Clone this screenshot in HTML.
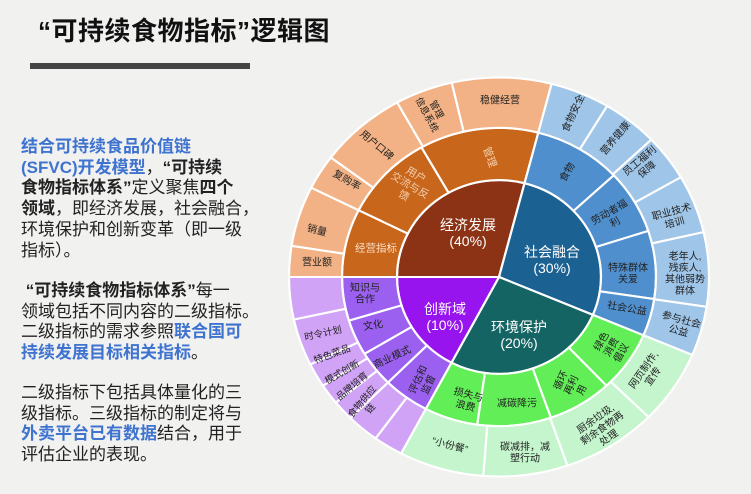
<!DOCTYPE html>
<html><head><meta charset="utf-8"><style>
body{margin:0;width:751px;height:494px;overflow:hidden;background:#f1f1f0;font-family:"Liberation Sans","Noto Sans CJK SC",sans-serif;position:relative}
.t{position:absolute;left:38px;top:11px;font-size:26px;font-weight:bold;color:#111;letter-spacing:0.5px;white-space:nowrap}
.bar{position:absolute;left:30px;top:63px;width:220px;height:6px;background:#444}
.p{position:absolute;left:21px;font-size:17px;line-height:20.7px;color:#222;white-space:nowrap}
.b{color:#3f73d0;font-weight:bold}
svg{position:absolute;left:0;top:0}
text{font-family:"Liberation Sans","Noto Sans CJK SC",sans-serif}
</style></head><body>
<div class="t">“可持续食物指标”逻辑图</div>
<div class="bar"></div>
<div class="p" style="top:137px"><span class="b">结合可持续食品价值链</span><br><span class="b">(SFVC)开发模型</span>，<b>“可持续</b><br><b>食物指标体系”</b>定义聚焦<b>四个</b><br><b>领域</b>，即经济发展，社会融合，<br>环境保护和创新变革（即一级<br>指标）。</div>
<div class="p" style="top:281px">&nbsp;<b>“可持续食物指标体系”</b>每一<br>领域包括不同内容的二级指标。<br>二级指标的需求参照<span class="b">联合国可</span><br><span class="b">持续发展目标相关指标</span>。</div>
<div class="p" style="top:383px">二级指标下包括具体量化的三<br>级指标。三级指标的制定将与<br><span class="b">外卖平台已有数据</span>结合，用于<br>评估企业的表现。</div>
<svg width="751" height="494" id="s">
<g id="g" transform="translate(499,277) scale(1,0.95)"></g>
<g id="lab" font-size="10" fill="#222" text-anchor="middle"></g>
</svg>
<script>
var g=document.getElementById('g');
function pt(r,a){a=a*Math.PI/180;return [r*Math.sin(a),-r*Math.cos(a)];}
function seg(r0,r1,a0,a1,c){
 var p1=pt(r1,a0),p2=pt(r1,a1),p3=pt(r0,a1),p4=pt(r0,a0),l=(a1-a0)>180?1:0;
 var d='M'+p1+'A'+r1+','+r1+' 0 '+l+' 1 '+p2+'L'+p3;
 if(r0>0)d+='A'+r0+','+r0+' 0 '+l+' 0 '+p4;
 d+='Z';
 var e=document.createElementNS('http://www.w3.org/2000/svg','path');
 e.setAttribute('d',d);e.setAttribute('fill',c);e.setAttribute('stroke','#fff');e.setAttribute('stroke-width','2.2');
 g.appendChild(e);}
seg(0,102,270,374.5,'#8d3315');seg(0,102,14.5,113,'#1b6192');seg(0,102,113,207.8,'#146463');seg(0,102,207.8,270,'#9814ee');
var R0=102,R1=157;
[[270,296.6],[296.6,330.4],[330.4,374.5]].forEach(function(a){seg(R0,R1,a[0],a[1],'#c8661b');});
[[14.5,47],[47,72],[72,98.5],[98.5,113]].forEach(function(a){seg(R0,R1,a[0],a[1],'#4f8fcd');});
[[113,136.8],[136.8,160.7],[160.7,188],[188,207.8]].forEach(function(a){seg(R0,R1,a[0],a[1],'#62ee57');});
[[207.8,225],[225,239],[239,253],[253,270]].forEach(function(a){seg(R0,R1,a[0],a[1],'#9b60ef');});
var Q0=157,Q1=210;
[[270,279],[279,296.6],[296.6,306.8],[306.8,331],[331,347],[347,374.5]].forEach(function(a){seg(Q0,Q1,a[0],a[1],'#f2b285');});
[[14.5,31],[31,46.5],[46.5,60],[60,77],[77,98.6],[98.6,113]].forEach(function(a){seg(Q0,Q1,a[0],a[1],'#9fc5e8');});
[[113,134.6],[134.6,161],[161,184.3],[184.3,207.8]].forEach(function(a){seg(Q0,Q1,a[0],a[1],'#c4f5cd');});
[[207.8,216],[216,225],[225,231],[231,237],[237,244],[244,257.7],[257.7,270]].forEach(function(a){seg(Q0,Q1,a[0],a[1],'#d1a3f6');});
var L=document.getElementById('lab');
function T(x,y,rot,lines,fill,size){
 var t=document.createElementNS('http://www.w3.org/2000/svg','text');
 t.setAttribute('transform','translate('+x+','+y+') rotate('+rot+')');
 if(fill)t.setAttribute('fill',fill);if(size)t.setAttribute('font-size',size);
 var s=size||10,n=lines.length;
 lines.forEach(function(l,i){var ts=document.createElementNS('http://www.w3.org/2000/svg','tspan');ts.setAttribute('x',0);ts.setAttribute('y',(i-(n-1)/2)*s*1.15+s*0.35);ts.textContent=l;t.appendChild(ts);});
 L.appendChild(t);}
T(468,233,0,['经济发展','(40%)'],'#fff',14);
T(552,260,0,['社会融合','(30%)'],'#fff',14);
T(445,317,0,['创新域','(10%)'],'#fff',14);
T(519,335,0,['环境保护','(20%)'],'#fff',14);
T(490,157,70,['管理'],'#f5d0b0',10.5);
T(410,185,30,['用户','交流与反','馈'],'#f5d0b0',10.5);
T(376,248,0,['经营指标'],'#fbe0c8',10.5);
T(567,172,-60,['食物'],'#222',10);
T(612,217,-30,['劳动者福','利'],'#222',10);
T(628,273,0,['特殊群体','关爱'],'#222',10);
T(627,308,10,['社会公益'],'#222',10);
T(611,347,-60,['绿色','消费','倡议'],'#222',10);
T(571,385,-65,['循环','再利','用'],'#222',10);
T(517,403,0,['减碳降污'],'#222',10);
T(467,400,15,['损失与','浪费'],'#222',10);
T(423,382,-65,['评估和','监督'],'#222',10);
T(392,357,-25,['商业模式'],'#222',10);
T(373,325,-10,['文化'],'#222',10);
T(365,293,0,['知识与','合作'],'#222',10);
T(500,100,0,['稳健经营']);
T(432,112,62,['管理','信息系统'],null,9.5);
T(377,145,40,['用户口碑']);
T(347,180,30,['复购率']);
T(317,230,15,['销量']);
T(317,262,0,['营业额']);
T(573,113,-65,['食物安全']);
T(615,138,-50,['营养健康']);
T(643,165,-40,['员工福利','保障']);
T(673,217,-15,['职业技术','培训']);
T(685,273,0,['老年人,','残疾人,','其他弱势','群体']);
T(680,325,15,['参与社会','公益']);
T(648,373,-55,['网页制作,','宣传']);
T(602,428,-35,['厨余垃圾,','剩余食物再','处理']);
T(525,452,0,['碳减排，减','塑行动']);
T(450,445,15,['“小份餐”']);
T(366,405,-50,['食物供应','链'],null,9.5);
T(352,386,-40,['品牌培育'],null,9.5);
T(342,372,-30,['模式创新'],null,9.5);
T(332,354,-20,['特色菜品'],null,9.5);
T(323,333,-12,['时令计划'],null,9.5);
</script>
</body></html>
